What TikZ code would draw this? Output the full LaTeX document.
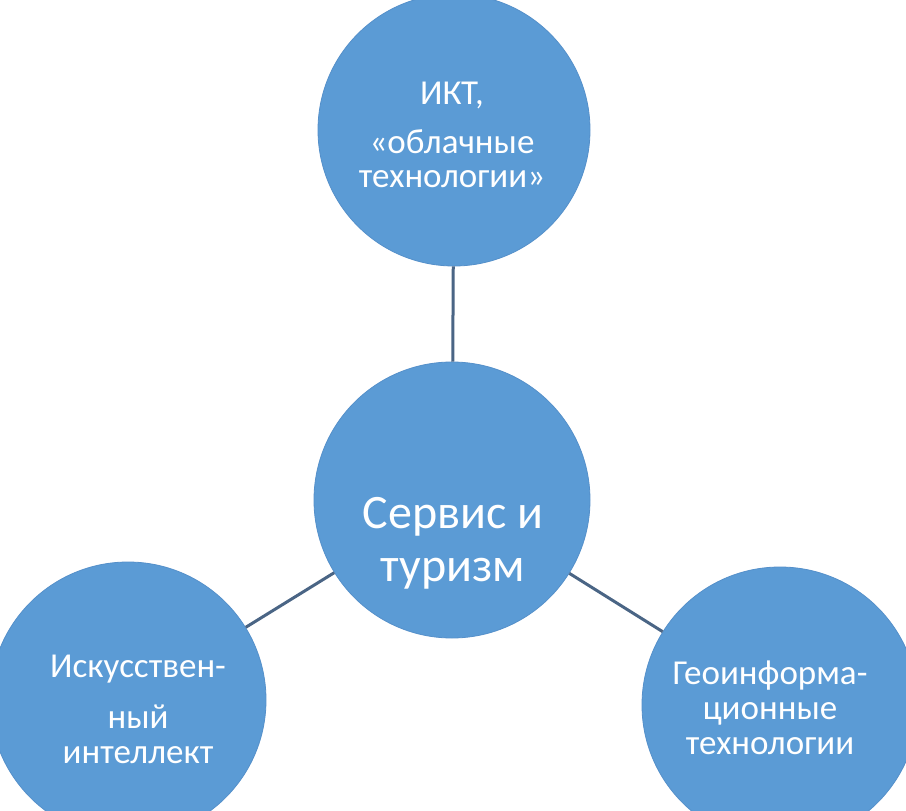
\documentclass[tikz,border=0pt]{standalone}
\usepackage{fontspec}
\setmainfont{Carlito}
\definecolor{fillblue}{HTML}{5B9BD5}
\definecolor{edgeblue}{HTML}{5590CA}
\definecolor{linkcol}{HTML}{4A6585}
\begin{document}
\begin{tikzpicture}[x=1pt,y=-1pt,
  bubble/.style={circle,fill=fillblue,draw=edgeblue,line width=0.8pt,inner sep=0pt,minimum size=#1},
  txt/.style={anchor=base,text=white,font=\fontsize{35}{42}\selectfont,inner sep=0pt},
  bigtxt/.style={anchor=base,text=white,font=\fontsize{48}{58}\selectfont,inner sep=0pt},
  link/.style={draw=linkcol,line width=3pt}]
\useasboundingbox (0,0) rectangle (906,811);
\fill[white] (0,0) rectangle (906,811);
\node[bubble=272pt] (top) at (454,130) {};
\node[bubble=276pt] (mid) at (452,500) {};
\node[bubble=276pt] (left) at (128,700) {};
\node[bubble=276pt] (right) at (780,705) {};
\draw[link] (top) -- (mid);
\draw[link] (mid) -- (left);
\draw[link] (mid) -- (right);
\node[txt] (t1) at (452,104) {ИКТ,};
\node[txt] (t2) at (452,153) {«облачные};
\node[txt] (t3) at (452,187) {технологии»};
\node[bigtxt] (m1) at (453,528) {Сервис и};
\node[bigtxt] (m2) at (453,581) {туризм};
\node[txt] (l1) at (138,677) {Искусствен-};
\node[txt] (l2) at (138,728) {ный};
\node[txt] (l3) at (138,763) {интеллект};
\node[txt] (r1) at (770,684) {Геоинформа-};
\node[txt] (r2) at (770,719) {ционные};
\node[txt] (r3) at (770,754) {технологии};
\end{tikzpicture}
\end{document}
